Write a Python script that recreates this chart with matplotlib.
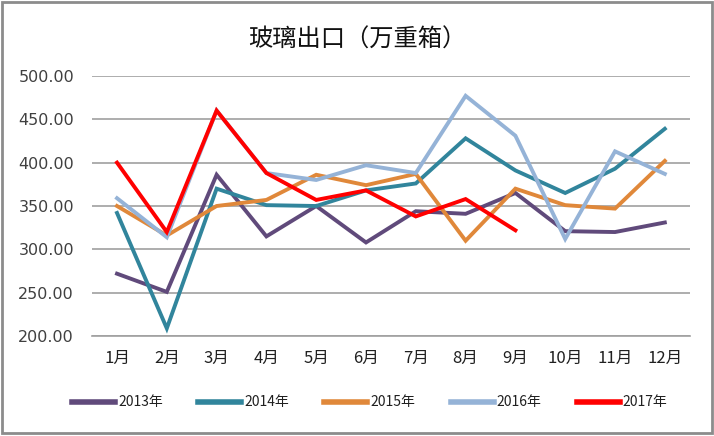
import matplotlib
matplotlib.use("Agg")
import matplotlib.pyplot as plt
from matplotlib.patches import Rectangle

plt.rcParams['font.family'] = ['Noto Sans CJK SC', 'DejaVu Sans']

months = ['1月', '2月', '3月', '4月', '5月', '6月', '7月', '8月', '9月', '10月', '11月', '12月']
y2013 = [272, 251, 386, 315, 350, 308, 344, 341, 365, 321, 320, 331]
y2014 = [342, 209, 370, 351, 350, 368, 376, 428, 391, 365, 393, 439]
y2015 = [350, 316, 350, 357, 386, 374, 387, 310, 370, 351, 347, 402]
y2016 = [359, 314, 460, 388, 380, 397, 388, 477, 431, 312, 413, 387]
y2017 = [400, 320, 460, 388, 357, 368, 338, 358, 322]
series = [('2013年', y2013, '#604A7B'),
          ('2014年', y2014, '#31859C'),
          ('2015年', y2015, '#E0883A'),
          ('2016年', y2016, '#95B3D7'),
          ('2017年', y2017, '#FF0000')]
yticks = [200, 250, 300, 350, 400, 450, 500]

fig = plt.figure(figsize=(7.14, 4.36), dpi=100)
ax = fig.add_axes([0.129, 0.229, 0.837, 0.597])

for name, vals, color in series:
    ax.plot(range(len(vals)), vals, color=color, lw=2.8, label=name,
            solid_joinstyle='miter')

ax.set_xlim(-0.5, 11.5)
ax.set_ylim(200, 500)
ax.set_yticks(yticks)
ax.set_yticklabels([f'{v:.2f}' for v in yticks], fontsize=11.5, color='#404040',
                   family='DejaVu Sans')
ax.set_xticks(range(12))
ax.set_xticklabels(months, fontsize=12, color='#202020')
ax.tick_params(axis='both', length=0)
ax.tick_params(axis='y', pad=13)
ax.tick_params(axis='x', pad=10)
ax.grid(axis='y', color='#A0A0A0', lw=1.2)
ax.set_axisbelow(True)
for s in ['left', 'right', 'top']:
    ax.spines[s].set_visible(False)
ax.spines['bottom'].set_color('#A0A0A0')
ax.spines['bottom'].set_linewidth(1.2)

fig.text(0.5, 0.91, '玻璃出口（万重箱）', ha='center', va='center', fontsize=17.5,
         color='#111111')

leg = fig.legend(loc='center', bbox_to_anchor=(0.518, 0.077), ncol=5, frameon=False,
                 fontsize=10, handlelength=3.1, handletextpad=0.2, columnspacing=2.55)
for line in leg.get_lines():
    line.set_linewidth(4)
for t in leg.get_texts():
    t.set_color('#202020')

fig.patches.append(Rectangle((0.003, 0.006), 0.994, 0.99, transform=fig.transFigure,
                             fill=False, edgecolor='#8C8C8C', lw=2))

fig.savefig('out.png', dpi=100)
